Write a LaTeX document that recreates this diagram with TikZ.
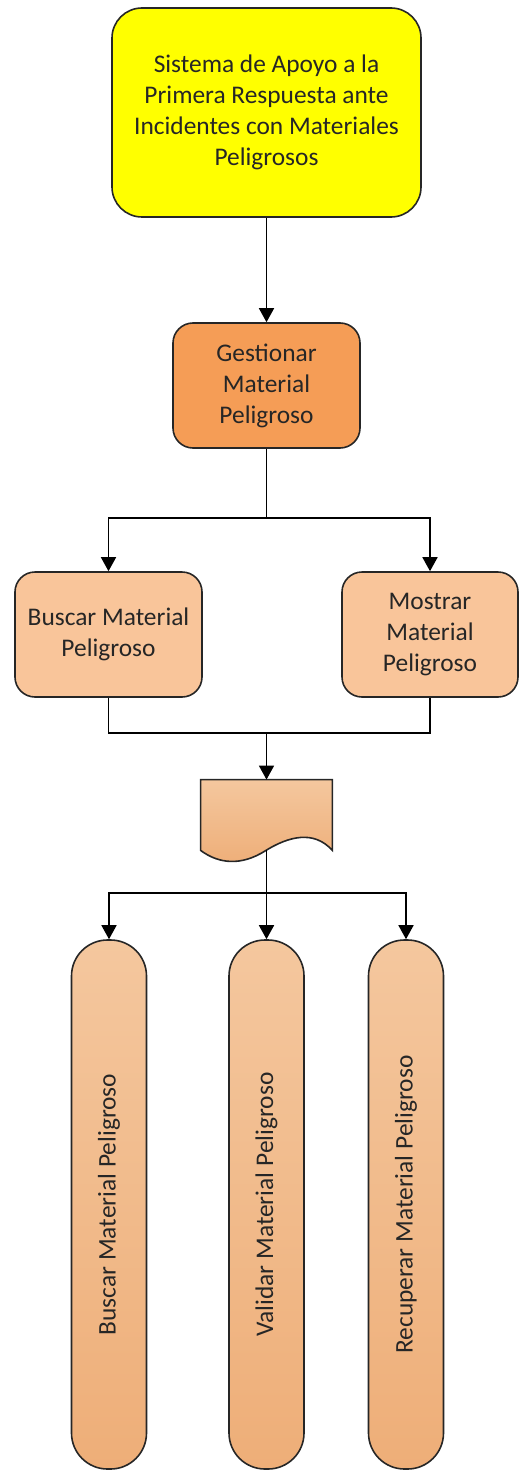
\documentclass[tikz,border=0pt]{standalone}
\usepackage{fontspec}
\setmainfont{Carlito}
\usetikzlibrary{arrows.meta,positioning}

\definecolor{sysyellow}{HTML}{FFFF00}
\definecolor{gestorange}{HTML}{F59D56}
\definecolor{subpeach}{HTML}{F9C59A}
\definecolor{leaftop}{HTML}{F4C79E}
\definecolor{leafbot}{HTML}{EEAE78}
\definecolor{edgegray}{HTML}{262626}

\begin{document}
\begin{tikzpicture}[
  x=0.5pt, y=-0.5pt,
  box/.style={draw=edgegray, line width=0.8pt, rounded corners=10pt, align=center,
    inner sep=0pt, text=edgegray, font=\fontsize{12.7}{15.5}\selectfont},
  sysbox/.style={box, fill=sysyellow, rounded corners=15pt, minimum width=154.5pt, minimum height=104.5pt},
  gestbox/.style={box, fill=gestorange, minimum width=93.5pt, minimum height=62.5pt},
  subbox/.style={box, fill=subpeach, minimum width=93.5pt, minimum height=62.5pt},
  leafbox/.style={box, top color=leaftop, bottom color=leafbot, rounded corners=18pt,
    minimum width=37.5pt, minimum height=264.5pt},
  line/.style={line width=0.8pt, black},
  arrow/.style={line, -{Triangle[length=7pt, width=7.5pt]}}
]
\useasboundingbox (0,0) rectangle (519,1471);

% nodes
\node[sysbox] (sys) at (266.5,112.5) {Sistema de Apoyo a la\\Primera Respuesta ante\\Incidentes con Materiales\\Peligrosos};
\node[gestbox] (gest) at (266.5,385.5) {Gestionar\\Material\\Peligroso};
\node[subbox] (busq) at (108.5,634.5) {Buscar Material\\Peligroso};
\node[subbox, minimum width=88pt] (most) at (430,634.5) {Mostrar\\Material\\Peligroso};
\node[minimum width=65.5pt, minimum height=35pt, inner sep=0pt] (doc) at (266.5,815) {};
\node[leafbox] (buscar) at (109,1204.5) {\rotatebox{90}{Buscar Material Peligroso}};
\node[leafbox] (validar) at (266.5,1204.5) {\rotatebox{90}{Validar Material Peligroso}};
\node[leafbox] (recup) at (406,1204.5) {\rotatebox{90}{Recuperar Material Peligroso}};

% document shape
\path[draw=edgegray, line width=0.8pt, top color=leaftop, bottom color=leafbot]
  (doc.north west) -- (doc.north east) -- (doc.south east)
  .. controls (314,830) and (289,836) .. (265,851)
  .. controls (241,866) and (219,864) .. (doc.south west) -- cycle;

% junctions
\coordinate (j1) at (266.5,518);
\coordinate (j2) at (266.5,733);
\coordinate (j3) at (266.5,893);

% connectors
\draw[arrow] (sys) -- (gest);
\draw[line] (gest) -- (j1);
\draw[arrow] (j1) -| (busq);
\draw[arrow] (j1) -| (most);
\draw[line] (busq) |- (j2);
\draw[line] (most) |- (j2);
\draw[arrow] (j2) -- (doc);
\draw[line] (doc.south) -- (j3);
\draw[arrow] (j3) -| (buscar);
\draw[arrow] (j3) -- (validar);
\draw[arrow] (j3) -| (recup);
\end{tikzpicture}
\end{document}
